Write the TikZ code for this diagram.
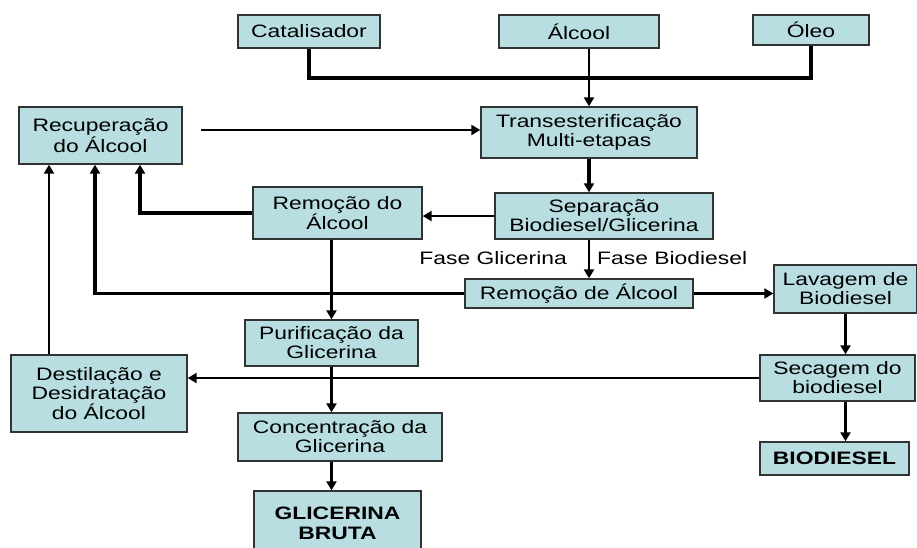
\documentclass[tikz,border=0pt]{standalone}
\usepackage{fontspec}
\setmainfont[FakeStretch=1.27]{Liberation Sans}
\usetikzlibrary{positioning}
\usetikzlibrary{arrows.meta}
\definecolor{boxblue}{RGB}{184,222,226}
\tikzset{
 proc/.style={draw=black!80,line width=1.4pt,fill=boxblue,align=center,inner sep=0pt,font=\fontsize{18}{19}\selectfont},
 flow/.style={line width=2.2pt,-{Triangle[width=10pt,length=9pt]}},
 fat/.style={line width=3.4pt},
 lbl/.style={inner sep=0pt,font=\fontsize{18}{19}\selectfont}
}
\begin{document}
\begin{tikzpicture}[x=1pt,y=-1pt]
 \useasboundingbox (0,0) rectangle (917,547);
 \clip (0,0) rectangle (917,547);
 % entradas
 \node[proc,minimum width=142pt,minimum height=33pt] (cat) at (309,31.5) {Catalisador};
 \node[proc,minimum width=160pt,minimum height=33pt] (alc) at (579,31.5) {Álcool};
 \node[proc,minimum width=116pt,minimum height=30pt] (oleo) at (811,30) {Óleo};
 % processo
 \node[proc,minimum width=216pt,minimum height=51pt] (trans) at (589,132.5) {Transesterificação\\Multi-etapas};
 \node[proc,minimum width=163pt,minimum height=57pt] (recup) at (100.5,135.5) {Recuperação\\do Álcool};
 \node[proc,minimum width=218pt,minimum height=46pt] (separ) at (604,216) {Separação\\Biodiesel/Glicerina};
 \node[proc,minimum width=169pt,minimum height=52pt] (remA) at (337.5,213) {Remoção do\\Álcool};
 \node[proc,minimum width=228pt,minimum height=29pt] (remB) at (579,293.5) {Remoção de Álcool};
 \node[proc,minimum width=143pt,minimum height=48pt] (lav) at (845.5,289) {Lavagem de\\Biodiesel};
 \node[proc,minimum width=155pt,minimum height=46pt] (sec) at (837.5,378) {Secagem do\\biodiesel};
 \node[proc,minimum width=149pt,minimum height=33pt,font=\fontsize{18}{19}\selectfont\bfseries] (bio) at (834.5,458.5) {BIODIESEL};
 \node[proc,minimum width=176pt,minimum height=77pt] (dest) at (99,393.5) {Destilação e\\Desidratação\\do Álcool};
 \node[proc,minimum width=173pt,minimum height=46pt] (puri) at (331.5,343) {Purificação da\\Glicerina};
 \node[proc,minimum width=204pt,minimum height=48pt] (conc) at (340,437) {Concentração da\\Glicerina};
 \node[proc,minimum width=167pt,minimum height=64pt,font=\fontsize{18}{20}\selectfont\bfseries] (gli) at (337.5,523) {GLICERINA\\BRUTA};
 \node[lbl,anchor=east] (fglic) at (567,258) {Fase Glicerina};
 \node[lbl,anchor=west] (fbio) at (597,258) {Fase Biodiesel};
 \coordinate (junta) at (589,78);
 \coordinate (reciclo) at (201,130);
 % ligacoes
 \draw[fat] (cat.south) |- (junta) -| (oleo.south);
 \draw[flow] (alc.south -| trans) -- (trans.north);
 \draw[flow,fat] (trans.south) -- (trans.south |- separ.north);
 \draw[flow] (reciclo) -- (reciclo -| trans.west);
 \draw[flow] (separ.west) -- (separ.west -| remA.east);
 \draw[flow,fat] (remA.west) -| ([xshift=39.5pt]recup.south);
 \draw[flow] (remA.south -| puri) -- (puri.north);
 \draw[flow] (separ.south -| trans) -- (trans |- remB.north);
 \draw[flow,fat] (remB.west) -| ([xshift=-5.5pt]recup.south);
 \draw[flow] (remB.east) -- (remB.east -| lav.west);
 \draw[flow,fat] (lav.south) -- (lav.south |- sec.north);
 \draw[flow,fat] (lav.south |- sec.south) -- (lav.south |- bio.north);
 \draw[flow] (sec.west) -- (sec.west -| dest.east);
 \draw[flow] (puri.south) -- (puri.south |- conc.north);
 \draw[flow] (puri.south |- conc.south) -- (puri.south |- gli.north);
 \draw[flow] ([xshift=-50pt]dest.north) -- ([xshift=-50pt]dest.north |- recup.south);
\end{tikzpicture}
\end{document}
